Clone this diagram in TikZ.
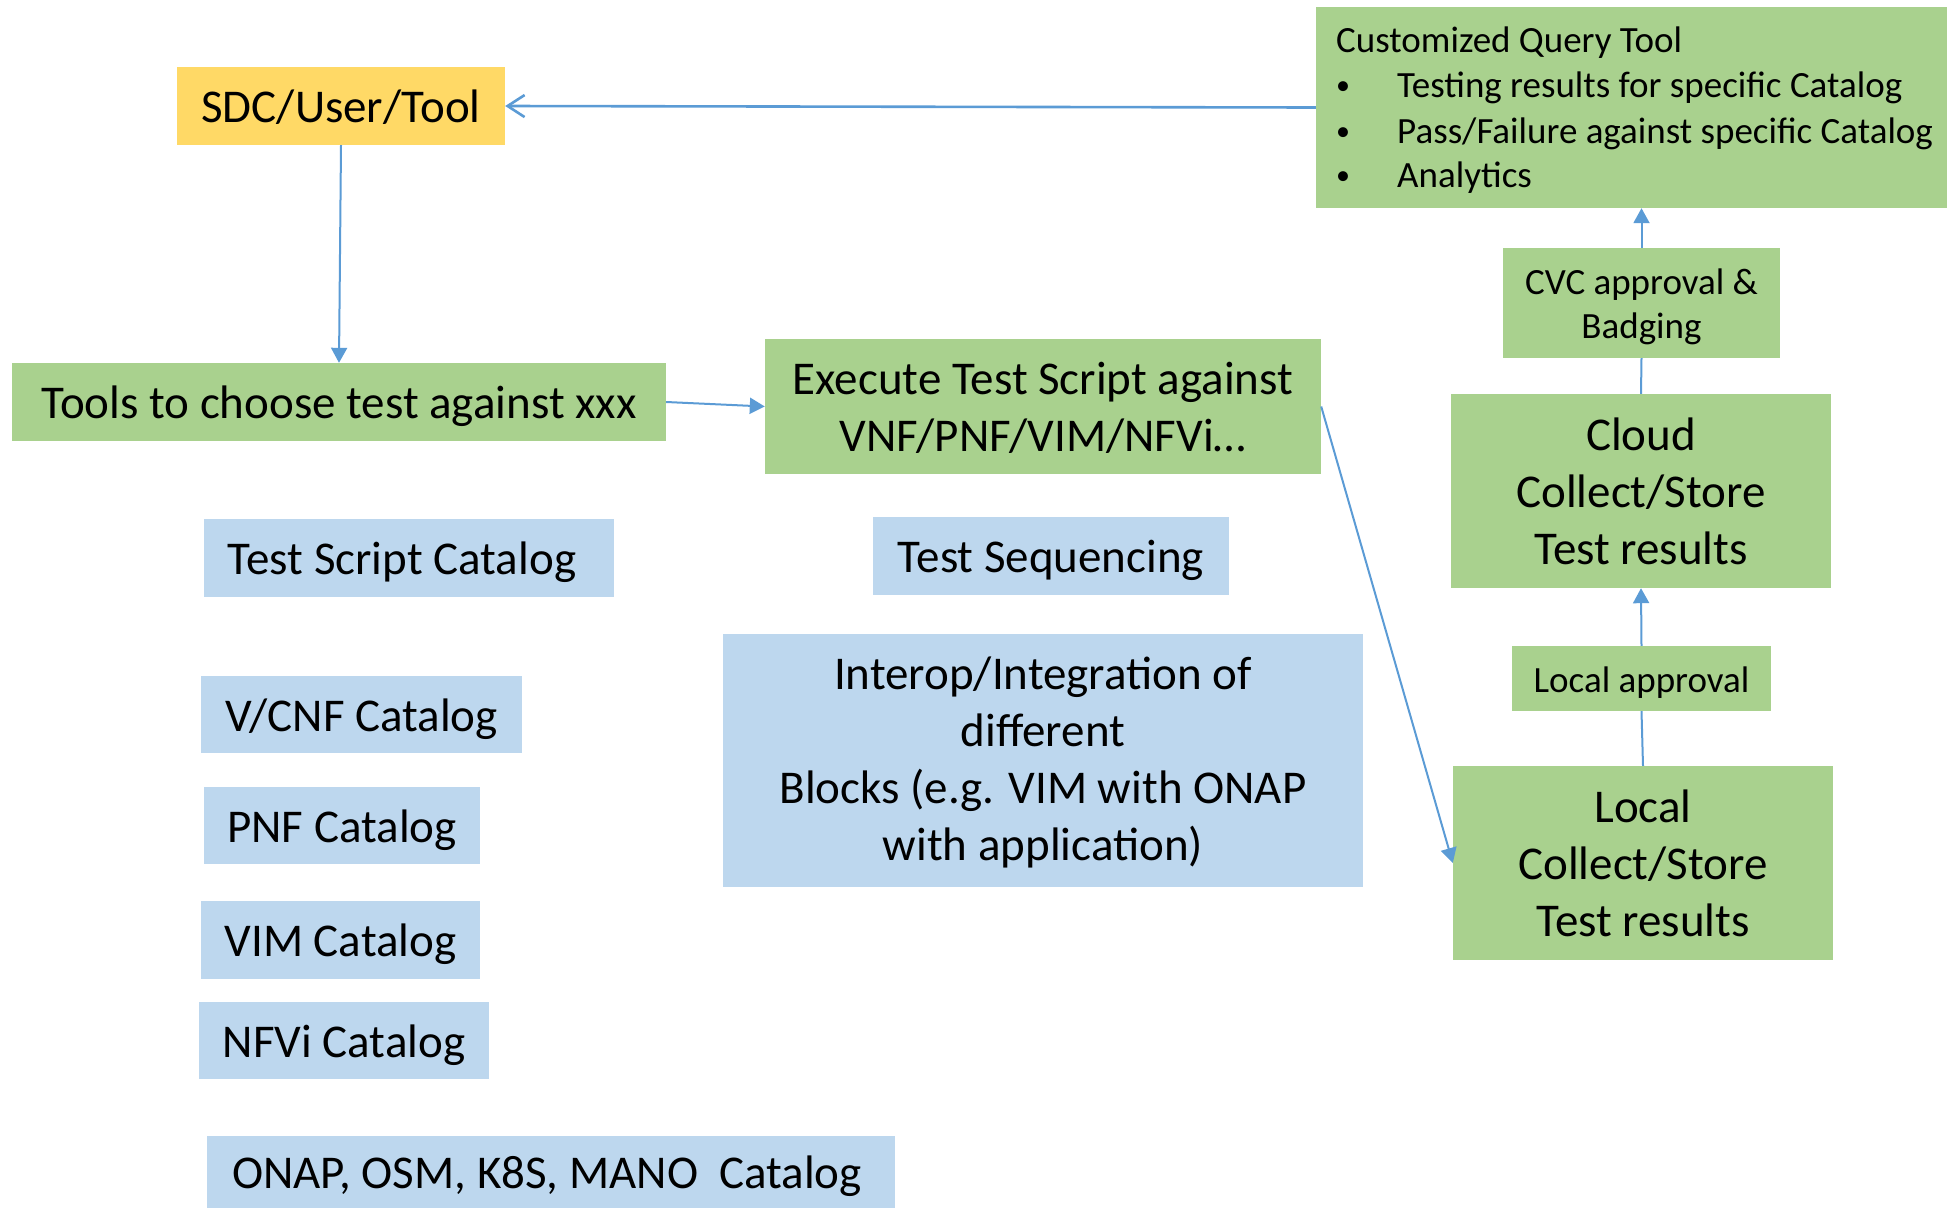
\documentclass[tikz,border=0pt]{standalone}
\usepackage{fontspec}
\setmainfont{Carlito}
\usetikzlibrary{arrows.meta,calc}
\definecolor{gfill}{HTML}{A9D18E}
\definecolor{bfill}{HTML}{BDD7EE}
\definecolor{yfill}{HTML}{FFD966}
\definecolor{lnc}{HTML}{5B9BD5}
\tikzset{
  box/.style={rectangle, inner sep=0pt, align=center, font=\fontsize{47}{57}\selectfont,
    text height=33.7pt, text depth=0pt},
  gbox/.style={box, fill=gfill},
  bbox/.style={box, fill=bfill},
  ybox/.style={box, fill=yfill},
  smalltxt/.style={font=\fontsize{37}{44}\selectfont, text height=27.4pt, text depth=0pt},
  twolines/.style={text height=90.7pt},
  threelines/.style={text height=147.7pt},
  fourlines/.style={text height=200.7pt},
  smalltwo/.style={text height=71.4pt},
  conn/.style={draw=lnc, line width=2pt},
  arr/.style={conn, -{Triangle[width=16pt,length=15pt]}},
  openarr/.style={draw=lnc, line width=2.6pt, -{Straight Barb[length=17pt,width=22pt,line width=2.6pt]}},
  qline/.style={anchor=base west, inner sep=0pt, font=\fontsize{37}{45}\selectfont},
}
\newcommand{\qbul}{\makebox[61pt][l]{\raisebox{2.5pt}{\fontsize{28}{28}\selectfont •}}}
\begin{document}
\begin{tikzpicture}[x=1pt,y=-1pt]
\useasboundingbox (0,0) rectangle (1947,1208);
% boxes
\node[ybox, minimum width=328pt, minimum height=78pt] (sdc) at (341,106) {SDC/User/Tool};
\node[gbox, minimum width=654pt, minimum height=78pt] (tools) at (339,402) {Tools to choose test against xxx};
\node[gbox, twolines, minimum width=556pt, minimum height=135pt] (exec) at (1043,406.5) {Execute Test Script against\\VNF/PNF/VIM/NFVi…};
\node[gbox, minimum width=631pt, minimum height=201pt] (query) at (1631.5,107.5) {};
\node[qline] (q0) at (1336,52) {Customized Query Tool};
\node[qline] (q1) at (1336,97) {\qbul Testing results for specific Catalog};
\node[qline] (q2) at (1336,143) {\qbul Pass/Failure against specific Catalog};
\node[qline] (q3) at (1336,187) {\qbul Analytics};
\node[gbox, smalltxt, smalltwo, minimum width=277pt, minimum height=110pt] (cvc) at (1641.5,303) {CVC approval \&\\Badging};
\node[gbox, threelines, minimum width=380pt, minimum height=194pt] (cloud) at (1641,491) {Cloud\\Collect/Store\\Test results};
\node[gbox, smalltxt, minimum width=259pt, minimum height=65pt] (lappr) at (1641.5,678.5) {Local approval};
\node[gbox, threelines, minimum width=380pt, minimum height=194pt] (local) at (1643,863) {Local\\Collect/Store\\Test results};
\node[bbox, minimum width=410pt, minimum height=78pt] (tsc) at (409,558) {Test Script Catalog\hspace{14pt}};
\node[bbox, minimum width=356pt, minimum height=78pt] (tseq) at (1051,556) {Test Sequencing};
\node[bbox, fourlines, minimum width=640pt, minimum height=253pt] (interop) at (1043,760.5) {Interop/Integration of\\different\\Blocks (e.g. VIM with ONAP\\with application)};
\node[bbox, minimum width=321pt, minimum height=77pt] (vcnf) at (361.5,714.5) {V/CNF Catalog};
\node[bbox, minimum width=276pt, minimum height=77pt] (pnf) at (342,825.5) {PNF Catalog};
\node[bbox, minimum width=279pt, minimum height=78pt] (vim) at (340.5,940) {VIM Catalog};
\node[bbox, minimum width=290pt, minimum height=77pt] (nfvi) at (344,1040.5) {NFVi Catalog};
\node[bbox, minimum width=688pt, minimum height=72pt] (onap) at (551,1172) {ONAP, OSM, K8S, MANO\ \ Catalog\hspace{8pt}};
% connectors
\draw[openarr] (query.west) -- (sdc.east);
\draw[arr] (sdc.south) -- (tools.north);
\draw[arr] (tools.east) -- (exec.west);
\draw[arr] (exec.east) -- (local.west);
\draw[conn] (local.north) -- (lappr.south);
\draw[arr] (lappr.north) -- (cloud.south);
\draw[conn] (cloud.north) -- (cvc.south);
\draw[arr] (cvc.north) -- (cvc.north |- query.south);
\end{tikzpicture}
\end{document}
